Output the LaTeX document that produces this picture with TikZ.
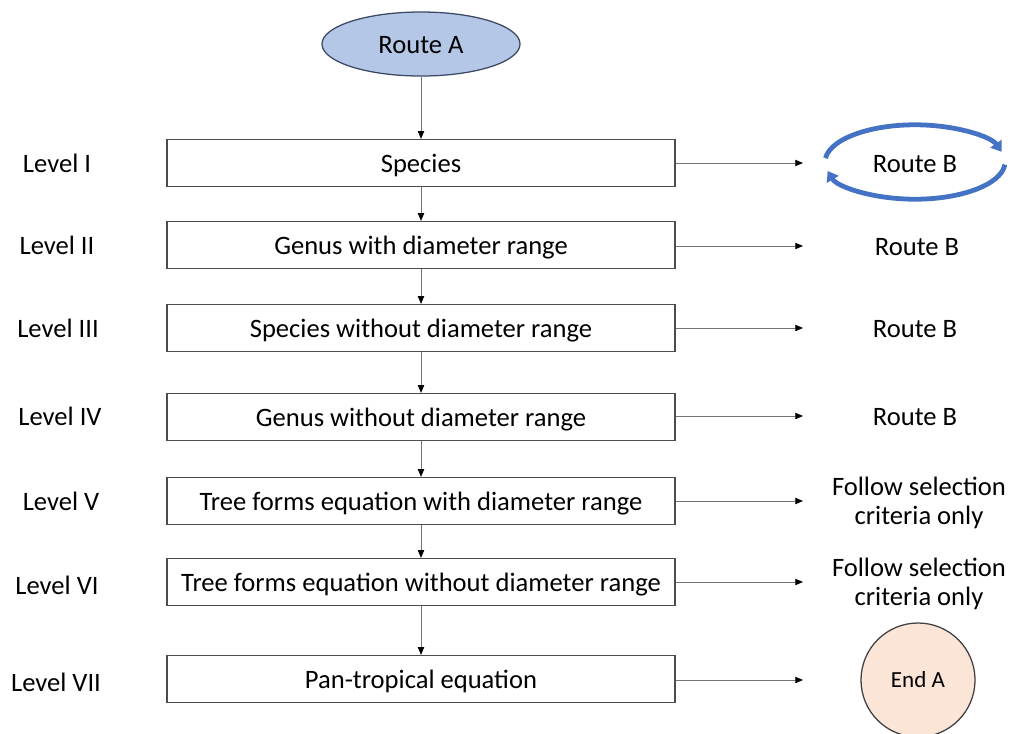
\documentclass[tikz,border=0pt]{standalone}
\usepackage{fontspec}
\setmainfont{Carlito}
\usetikzlibrary{arrows.meta, shapes.geometric}

\definecolor{routefill}{HTML}{B4C7E7}
\definecolor{routeline}{HTML}{3A4A63}
\definecolor{cycblue}{HTML}{4472C4}
\definecolor{endfill}{HTML}{FBE5D6}

\tikzset{
    evenline/.style={text height=16.5pt, text depth=3.5pt},
    lvlbox/.style={evenline, draw=black!70, line width=0.9pt, minimum width=12.7cm, minimum height=1.175cm, inner sep=0pt},
    flow/.style={draw=black!55, line width=0.6pt, -{Triangle[length=5.5pt, width=4.5pt, color=black]}},
    cycarrow/.style={draw=cycblue, line width=3.4pt, -{Triangle[length=7pt, width=9.5pt]}},
}

\begin{document}
\begin{tikzpicture}[x=0.025cm, y=-0.025cm, font=\fontsize{18.9}{22}\selectfont]
    \useasboundingbox (0,0) rectangle (1013,733);
    % Start of route A
    \node[evenline, ellipse, draw=routeline, line width=0.9pt, fill=routefill, minimum width=4.95cm, minimum height=1.6cm, inner sep=0pt] (routeA) at (421,44) {Route A};
    % Levels (boxes)
    \node[lvlbox] (b1) at (421,163) {Species};
    \node[lvlbox] (b2) at (421,245) {Genus with diameter range};
    \node[lvlbox] (b3) at (421,328) {Species without diameter range};
    \node[lvlbox] (b4) at (421,417) {Genus without diameter range};
    \node[lvlbox] (b5) at (421,501) {Tree forms equation with diameter range};
    \node[lvlbox] (b6) at (421,582) {Tree forms equation without diameter range};
    \node[lvlbox] (b7) at (421,679) {Pan-tropical equation};
    % Level names
    \node[evenline] (l1) at (57,163) {Level I};
    \node[evenline] (l2) at (57,245) {Level II};
    \node[evenline] (l3) at (58,328) {Level III};
    \node[evenline] (l4) at (60,416) {Level IV};
    \node[evenline] (l5) at (61,501) {Level V};
    \node[evenline] (l6) at (57,585) {Level VI};
    \node[evenline] (l7) at (56,682) {Level VII};
    % Right column
    \node[evenline] (r1) at (915,163) {Route B};
    \node[evenline] (r2) at (917,246) {Route B};
    \node[evenline] (r3) at (915,328) {Route B};
    \node[evenline] (r4) at (915,416) {Route B};
    \node[align=center, font=\fontsize{18.9}{21}\selectfont] (r5) at (919,503) {Follow selection\\criteria only};
    \node[align=center, font=\fontsize{18.9}{21}\selectfont] (r6) at (919,584) {Follow selection\\criteria only};
    \node[circle, draw=black!75, line width=0.9pt, fill=endfill, minimum size=2.85cm, inner sep=0pt, text height=14.3pt, text depth=3pt, font=\fontsize{16.4}{19}\selectfont] (r7) at (918,680) {End A};
    % Cycle around the first route B
    \coordinate (cyc) at (915,162);
    \draw[cycarrow] ([shift={(174:2.25cm and 0.93cm)}]cyc) arc[start angle=174, end angle=16, x radius=2.25cm, y radius=0.93cm];
    \draw[cycarrow] ([shift={(-4:2.25cm and 0.93cm)}]cyc) arc[start angle=-4, end angle=-166, x radius=2.25cm, y radius=0.93cm];
    % Downward flow
    \draw[flow] (routeA) -- (b1);
    \foreach \i/\j in {1/2, 2/3, 3/4, 4/5, 5/6, 6/7}
        \draw[flow] (b\i) -- (b\j);
    % Arrows to the right column
    \foreach \i/\y in {1/163, 2/246, 3/328, 4/416, 5/501, 6/582, 7/680} {
        \coordinate (t\i) at (803,\y);
        \draw[flow] (b\i.east |- t\i) -- (t\i);
    }
\end{tikzpicture}
\end{document}
